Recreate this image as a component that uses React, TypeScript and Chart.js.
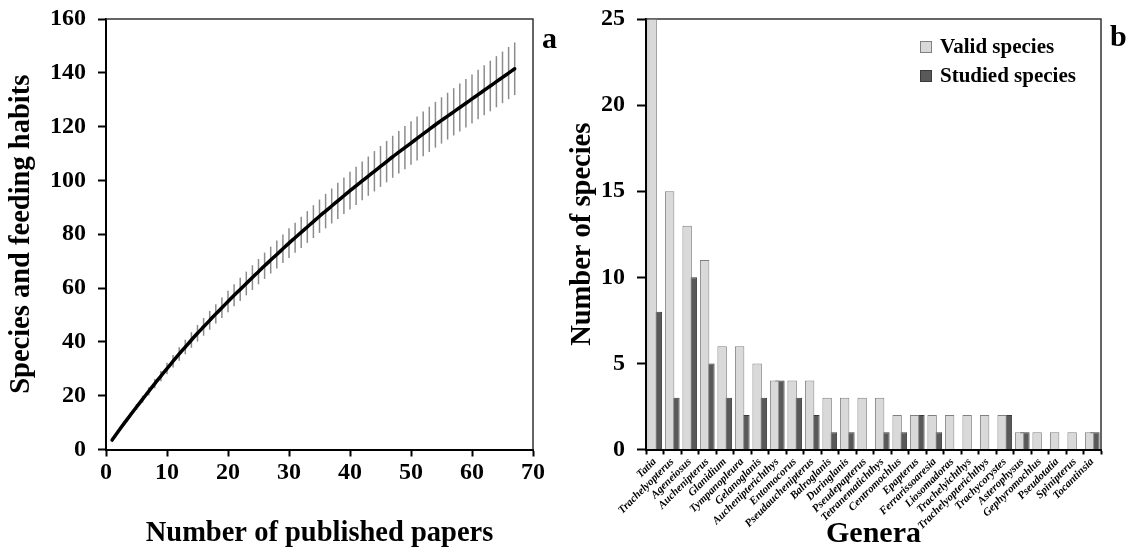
import React, { useEffect, useRef } from 'react';
import { Chart, registerables } from 'chart.js';

Chart.register(...registerables);

const FONT = '"Liberation Serif", "Times New Roman", serif';

// ---- Panel a: rarefaction curve ----
const paperCounts = [
  1, 2, 3, 4, 5, 6, 7, 8, 9, 10, 11, 12, 13, 14, 15, 16, 17, 18, 19, 20,
  21, 22, 23, 24, 25, 26, 27, 28, 29, 30, 31, 32, 33, 34, 35, 36, 37, 38, 39, 40,
  41, 42, 43, 44, 45, 46, 47, 48, 49, 50, 51, 52, 53, 54, 55, 56, 57, 58, 59, 60,
  61, 62, 63, 64, 65, 66, 67,
];
const richness = [
  3.5, 6.7, 9.8, 12.8, 15.8, 18.7, 21.6, 24.5, 27.3, 30.1,
  32.8, 35.5, 38.1, 40.7, 43.2, 45.6, 48.0, 50.4, 52.7, 55.0,
  57.3, 59.5, 61.7, 63.9, 66.1, 68.3, 70.4, 72.5, 74.6, 76.7,
  78.7, 80.7, 82.7, 84.7, 86.7, 88.6, 90.5, 92.4, 94.3, 96.2,
  98.0, 99.8, 101.6, 103.4, 105.2, 107.0, 108.8, 110.5, 112.2, 113.9,
  115.6, 117.3, 119.0, 120.7, 122.3, 123.9, 125.5, 127.1, 128.7, 130.3,
  131.9, 133.5, 135.1, 136.7, 138.3, 139.9, 141.5,
];
const richnessSD = [
  0.2, 0.4, 0.7, 0.9, 1.1, 1.3, 1.5, 1.7, 1.9, 2.1,
  2.3, 2.5, 2.7, 2.9, 3.1, 3.3, 3.5, 3.6, 3.8, 4.0,
  4.1, 4.3, 4.4, 4.6, 4.7, 4.9, 5.0, 5.2, 5.3, 5.5,
  5.6, 5.8, 5.9, 6.1, 6.2, 6.4, 6.5, 6.7, 6.8, 7.0,
  7.1, 7.2, 7.3, 7.5, 7.6, 7.7, 7.8, 7.9, 8.0, 8.1,
  8.2, 8.3, 8.4, 8.5, 8.6, 8.7, 8.8, 8.9, 9.0, 9.1,
  9.2, 9.3, 9.4, 9.5, 9.6, 9.7, 9.8,
];

// ---- Panel b: genera ----
const genera = [
  'Tatia', 'Trachelyopterus', 'Ageneiosus', 'Auchenipterus', 'Glanidium', 'Tympanopleura',
  'Gelanoglanis', 'Auchenipterichthys', 'Entomocorus', 'Pseudauchenipterus', 'Balroglanis',
  'Duringlanis', 'Pseudepapterus', 'Tetranematichthys', 'Centromochlus', 'Epapterus',
  'Ferrarissoaresia', 'Liosomadoras', 'Trachelyichthys', 'Trachelyopterichthys', 'Trachycorystes',
  'Asterophysus', 'Gephyromochlus', 'Pseudotatia', 'Spinipterus', 'Tocantinsia',
];
const validSpecies = [25, 15, 13, 11, 6, 6, 5, 4, 4, 4, 3, 3, 3, 3, 2, 2, 2, 2, 2, 2, 2, 1, 1, 1, 1, 1];
const studiedSpecies = [8, 3, 10, 5, 3, 2, 3, 4, 3, 2, 1, 1, 0, 1, 1, 2, 1, 0, 0, 0, 2, 1, 0, 0, 0, 1];

const tickFont = { family: FONT, size: 24, weight: 'bold' as const };
const titleFont = { family: FONT, size: 28.5, weight: 'bold' as const };

const PLOT_TOP = 19;
const PLOT_BOTTOM = 449.5;
const H = 555;

const noPad = (s: any) => {
  s.paddingTop = 0;
  s.paddingBottom = 0;
  s.paddingLeft = 0;
  s.paddingRight = 0;
};

const framePlugin = (letter: string, dy: number) => ({
  id: 'frame' + letter,
  beforeDatasetsDraw(chart: any) {
    const { ctx, chartArea: a } = chart;
    ctx.save();
    ctx.strokeStyle = '#333';
    ctx.lineWidth = 1.5;
    ctx.beginPath();
    ctx.moveTo(a.left, a.top);
    ctx.lineTo(a.right, a.top);
    ctx.lineTo(a.right, a.bottom);
    ctx.stroke();
    ctx.restore();
  },
  afterDraw(chart: any) {
    const { ctx, chartArea: a } = chart;
    ctx.save();
    ctx.fillStyle = '#000';
    ctx.font = `bold 30px ${FONT}`;
    ctx.textBaseline = 'alphabetic';
    ctx.textAlign = 'left';
    ctx.fillText(letter, a.right + 9, a.top + dy);
    ctx.restore();
  },
});

const errorBarsPlugin = {
  id: 'errorBars',
  beforeDatasetsDraw(chart: any) {
    const { ctx, scales } = chart;
    const x = scales.x;
    const y = scales.y;
    ctx.save();
    ctx.strokeStyle = '#8c8c8c';
    ctx.lineWidth = 1.5;
    paperCounts.forEach((n, i) => {
      const px = x.getPixelForValue(n);
      ctx.beginPath();
      ctx.moveTo(px, y.getPixelForValue(richness[i] - richnessSD[i]));
      ctx.lineTo(px, y.getPixelForValue(richness[i] + richnessSD[i]));
      ctx.stroke();
    });
    ctx.restore();
  },
};

const legendPlugin = {
  id: 'innerLegend',
  afterDraw(chart: any) {
    const { ctx, chartArea: a } = chart;
    const items = chart.data.datasets.map((d: any) => ({
      label: d.label,
      fill: d.backgroundColor,
      stroke: d.borderColor,
    }));
    ctx.save();
    ctx.font = `bold 21px ${FONT}`;
    ctx.textBaseline = 'middle';
    ctx.textAlign = 'left';
    items.forEach((it: any, i: number) => {
      const cy = a.top + 28 + i * 29;
      const bx = a.right - 181;
      ctx.fillStyle = it.fill;
      ctx.strokeStyle = it.stroke;
      ctx.lineWidth = 1;
      ctx.fillRect(bx, cy - 6, 12, 12);
      ctx.strokeRect(bx + 0.5, cy - 5.5, 11, 11);
      ctx.fillStyle = '#000';
      ctx.fillText(it.label, bx + 20, cy + 1);
    });
    ctx.restore();
  },
};

function LeftChart() {
  const ref = useRef<HTMLCanvasElement>(null);
  useEffect(() => {
    if (!ref.current) return;
    const chart = new Chart(ref.current, {
      type: 'line',
      data: {
        datasets: [
          {
            data: paperCounts.map((n, i) => ({ x: n, y: richness[i] })),
            borderColor: '#000',
            borderWidth: 3.5,
            borderCapStyle: 'round',
            pointRadius: 0,
            tension: 0.3,
          },
        ],
      },
      options: {
        responsive: false,
        animation: false,
        layout: { padding: { top: PLOT_TOP, right: 33, left: 0, bottom: 0 } },
        plugins: { legend: { display: false }, tooltip: { enabled: false } },
        scales: {
          x: {
            type: 'linear',
            min: 0,
            max: 70,
            ticks: { stepSize: 10, color: '#000', font: tickFont, padding: 2, maxRotation: 0 },
            grid: { drawOnChartArea: false, drawTicks: true, tickLength: 7, tickColor: '#000', tickWidth: 2 },
            border: { color: '#000', width: 2 },
            title: {
              display: true,
              text: 'Number of published papers',
              color: '#000',
              font: titleFont,
              padding: { top: 0, bottom: 4 },
            },
            afterFit: (s: any) => {
              noPad(s);
              s.height = H - PLOT_BOTTOM;
            },
          },
          y: {
            min: 0,
            max: 160,
            ticks: { stepSize: 20, color: '#000', font: tickFont, padding: 12 },
            grid: { drawOnChartArea: false, drawTicks: true, tickLength: 8, tickColor: '#000', tickWidth: 2 },
            border: { color: '#000', width: 2 },
            title: {
              display: true,
              text: 'Species and feeding habits',
              color: '#000',
              font: titleFont,
              padding: { top: 5, bottom: 0 },
            },
            afterFit: (s: any) => {
              noPad(s);
              s.width = 106;
            },
          },
        },
      },
      plugins: [errorBarsPlugin, framePlugin('a', 29)],
    } as any);
    return () => chart.destroy();
  }, []);
  return <canvas ref={ref} width={566} height={H} style={{ display: 'block' }} />;
}

function RightChart() {
  const ref = useRef<HTMLCanvasElement>(null);
  useEffect(() => {
    if (!ref.current) return;
    const chart = new Chart(ref.current, {
      type: 'bar',
      data: {
        labels: genera,
        datasets: [
          {
            label: 'Valid species',
            data: validSpecies,
            backgroundColor: '#d9d9d9',
            borderColor: '#808080',
            borderWidth: 1,
            categoryPercentage: 0.6,
            barPercentage: 1.8,
          },
          {
            label: 'Studied species',
            data: studiedSpecies,
            backgroundColor: '#595959',
            borderColor: '#3a3a3a',
            borderWidth: 1,
            categoryPercentage: 0.6,
            barPercentage: 1.8,
          },
        ],
      },
      options: {
        responsive: false,
        animation: false,
        layout: { padding: { top: PLOT_TOP, right: 32, left: 0, bottom: 0 } },
        plugins: { legend: { display: false }, tooltip: { enabled: false } },
        scales: {
          x: {
            ticks: {
              color: '#000',
              font: { family: FONT, size: 11, weight: 'bold', style: 'italic' },
              minRotation: 45,
              maxRotation: 45,
              autoSkip: false,
              padding: 1,
            },
            grid: { drawOnChartArea: false, drawTicks: true, tickLength: 5, tickColor: '#000', tickWidth: 2, offset: true },
            border: { color: '#000', width: 2 },
            title: {
              display: true,
              text: 'Genera',
              color: '#000',
              font: { family: FONT, size: 30, weight: 'bold' },
              padding: { top: 0, bottom: 3 },
            },
            afterFit: (s: any) => {
              noPad(s);
              s.height = H - PLOT_BOTTOM;
            },
          },
          y: {
            min: 0,
            max: 25,
            ticks: { stepSize: 5, color: '#000', font: tickFont, padding: 12 },
            grid: { drawOnChartArea: false, drawTicks: true, tickLength: 9, tickColor: '#000', tickWidth: 2 },
            border: { color: '#000', width: 2 },
            title: {
              display: true,
              text: 'Number of species',
              color: '#000',
              font: titleFont,
              padding: { top: 0, bottom: 0 },
            },
            afterFit: (s: any) => {
              noPad(s);
              s.width = 80;
            },
          },
        },
      },
      plugins: [framePlugin('b', 27), legendPlugin],
    } as any);
    return () => chart.destroy();
  }, []);
  return <canvas ref={ref} width={567} height={H} style={{ display: 'block' }} />;
}

export default function App() {
  return (
    <div style={{ position: 'absolute', left: 0, top: 0, width: 1133, height: H, background: '#fff' }}>
      <div style={{ position: 'absolute', left: 0, top: 0 }}>
        <LeftChart />
      </div>
      <div style={{ position: 'absolute', left: 566, top: 0 }}>
        <RightChart />
      </div>
    </div>
  );
}
